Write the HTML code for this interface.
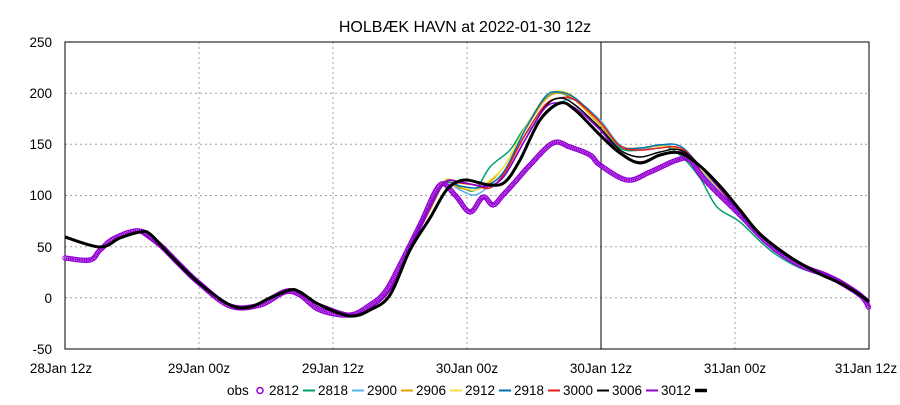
<!DOCTYPE html>
<html><head><meta charset="utf-8"><style>
body{margin:0;background:#fff}
svg text{font-family:"Liberation Sans",sans-serif;font-size:13.5px;fill:#000}
</style></head><body>
<svg id="s" width="900" height="400" viewBox="0 0 900 400" xmlns="http://www.w3.org/2000/svg">
<rect width="900" height="400" fill="#fff"/>
<g stroke="#a0a0a0" stroke-dasharray="2,3" stroke-width="1">
<line x1="65" y1="93.2" x2="869" y2="93.2"/><line x1="65" y1="144.3" x2="869" y2="144.3"/>
<line x1="65" y1="195.5" x2="869" y2="195.5"/><line x1="65" y1="246.7" x2="869" y2="246.7"/>
<line x1="65" y1="297.8" x2="869" y2="297.8"/>
<line x1="199" y1="42" x2="199" y2="349"/><line x1="333" y1="42" x2="333" y2="349"/>
<line x1="467" y1="42" x2="467" y2="349"/><line x1="735" y1="42" x2="735" y2="349"/>
</g>
<rect x="65" y="42" width="804" height="307" fill="none" stroke="#000"/>
<line x1="601" y1="42" x2="601" y2="349" stroke="#000"/>
<g text-anchor="end">
<text x="52" y="47">250</text><text x="52" y="98">200</text><text x="52" y="149">150</text>
<text x="52" y="200">100</text><text x="52" y="252">50</text><text x="52" y="303">0</text><text x="52" y="354">-50</text>
</g>
<g text-anchor="middle">
<text x="61" y="373">28Jan 12z</text><text x="199" y="373">29Jan 00z</text><text x="333" y="373">29Jan 12z</text>
<text x="467" y="373">30Jan 00z</text><text x="601" y="373">30Jan 12z</text><text x="735" y="373">31Jan 00z</text><text x="866" y="373">31Jan 12z</text>
<text x="465" y="32" style="font-size:16px">HOLBÆK HAVN at 2022-01-30 12z</text>
</g>
<g id="lines" fill="none" stroke-width="1.5" stroke-linejoin="round">
<polyline stroke="#009e73" points="140,232 170,255 199,283 230,305 250,307 270,297 290,289 310,300 350,314 370,308 390,290 410,245 430,205 445,183 460,187 475,190 490,167 510,150 523,130 550,95 575,100 600,125 620,148 640,150 660,145 680,155 700,178 717,207 740,222 770,250 800,268 840,281 869,300"/>
<polyline stroke="#56b4e9" points="140,232 170,255 199,283 230,305 250,307 270,297 290,289 310,300 350,314 370,308 390,290 410,248 430,210 445,183 460,190 475,195 490,185 505,170 525,135 545,115 560,103 575,100 600,120 620,145 640,150 660,145 680,150 700,170 740,215 770,245 800,265 840,281 869,300"/>
<polyline stroke="#e69f00" points="140,232 170,255 199,283 230,305 250,307 270,297 290,289 310,300 350,314 370,308 390,290 410,248 430,210 445,183 460,188 475,190 490,182 505,165 525,130 545,100 560,93 575,100 600,125 620,146 640,148 660,146 680,150 700,168 740,212 770,243 800,263 840,280 869,300"/>
<polyline stroke="#f0e442" points="140,232 170,255 199,283 230,305 250,307 270,297 290,289 310,300 350,314 370,308 390,290 410,248 430,208 445,180 460,186 475,190 490,180 505,165 525,128 545,97 560,91 575,98 600,123 620,146 640,148 660,146 680,150 700,168 740,212 770,243 800,263 840,280 869,300"/>
<polyline stroke="#0072b2" points="140,232 170,255 199,283 230,305 250,307 270,297 290,289 310,300 350,314 370,308 390,290 410,248 430,208 445,183 460,186 475,188 490,184 505,170 525,130 545,97 558,92 575,98 600,122 620,146 640,148 660,145 680,146 700,166 740,212 770,243 800,263 840,280 869,300"/>
<polyline stroke="#e41a1c" points="140,232 170,255 199,283 230,305 250,307 270,297 290,289 310,300 350,314 370,308 390,290 410,248 430,208 445,182 460,183 475,185 490,188 505,172 525,135 545,105 560,98 575,100 600,122 620,146 640,150 660,148 680,148 700,166 740,212 770,243 800,263 840,280 869,300"/>
<polyline stroke="#000" points="140,232 170,255 199,283 230,305 250,307 270,297 290,289 310,300 350,314 370,308 390,290 410,248 430,208 445,182 460,182 475,185 490,186 505,175 525,140 545,107 560,98 575,105 600,128 620,150 640,157 660,152 680,150 700,166 740,212 770,243 800,263 840,280 869,300"/>
<polyline stroke="#9400d3" points="140,232 170,255 199,283 230,305 250,307 270,297 290,289 310,300 350,314 370,308 390,290 410,248 430,208 445,182 460,182 475,185 490,186 505,175 525,140 545,108 560,103 575,108 600,130 620,153 640,162 660,155 680,152 700,166 740,212 770,243 800,263 840,280 869,300"/>
</g>
<polyline id="obs" fill="none" stroke="none" points="65,258 90,260 100,250 115,238 140,231 160,245 180,265 199,283 230,306 260,305 285,292 300,295 320,310 350,315 370,305 385,292 400,265 420,225 440,185 455,195 470,212 483,197 493,205 503,195 515,182 530,165 553,143 570,147 590,155 600,165 627,180 650,172 677,160 690,160 705,180 740,215 770,245 800,265 830,277 860,295 869,308"/>
<g id="obsm" fill="none" stroke="#9400d3" stroke-width="1"></g>
<polyline id="main" fill="none" stroke="#000" stroke-width="3" stroke-linejoin="round" points="65,237 100,247 120,238 140,232 150,234 170,255 199,283 230,305 250,307 270,298 290,290 300,292 320,305 350,316 370,310 390,295 410,250 430,218 445,192 455,183 467,180 490,185 505,182 520,160 540,120 560,103 575,110 600,135 620,153 640,163 660,155 680,153 700,166 720,186 740,210 760,234 790,257 820,274 840,283 860,295 869,302"/>
<g>
<text x="227" y="395">obs</text>
<circle cx="260" cy="390.5" r="3" fill="none" stroke="#9400d3" stroke-width="1.5"/>
<text x="269" y="395">2812</text><text x="318" y="395">2818</text><text x="367" y="395">2900</text>
<text x="416" y="395">2906</text><text x="465" y="395">2912</text><text x="514" y="395">2918</text>
<text x="563" y="395">3000</text><text x="612" y="395">3006</text><text x="661" y="395">3012</text>
</g>
<g stroke-width="2">
<line x1="303" y1="390.5" x2="315" y2="390.5" stroke="#009e73"/>
<line x1="352" y1="390.5" x2="364" y2="390.5" stroke="#56b4e9"/>
<line x1="401" y1="390.5" x2="413" y2="390.5" stroke="#e69f00"/>
<line x1="450" y1="390.5" x2="462" y2="390.5" stroke="#f0e442"/>
<line x1="499" y1="390.5" x2="511" y2="390.5" stroke="#0072b2"/>
<line x1="548" y1="390.5" x2="560" y2="390.5" stroke="#e41a1c"/>
<line x1="597" y1="390.5" x2="609" y2="390.5" stroke="#000"/>
<line x1="646" y1="390.5" x2="658" y2="390.5" stroke="#9400d3"/>
<line x1="695" y1="390.5" x2="707" y2="390.5" stroke="#000" stroke-width="3.5"/>
</g>
</svg>
<script>
(function(){
var NS="http://www.w3.org/2000/svg";
function smooth(pl){
  var p=pl.getAttribute("points").trim().split(/\s+/).map(function(s){return s.split(",").map(Number);});
  var d="M"+p[0][0]+","+p[0][1];
  for(var i=0;i<p.length-1;i++){
    var p0=p[i-1]||p[i],p1=p[i],p2=p[i+1],p3=p[i+2]||p2;
    var c1x=p1[0]+(p2[0]-p0[0])/6,c1y=p1[1]+(p2[1]-p0[1])/6;
    var c2x=p2[0]-(p3[0]-p1[0])/6,c2y=p2[1]-(p3[1]-p1[1])/6;
    d+=" C"+c1x.toFixed(1)+","+c1y.toFixed(1)+" "+c2x.toFixed(1)+","+c2y.toFixed(1)+" "+p2[0]+","+p2[1];
  }
  var path=document.createElementNS(NS,"path");
  ["stroke","stroke-width","fill","stroke-linejoin"].forEach(function(a){var v=pl.getAttribute(a);if(v)path.setAttribute(a,v);});
  path.setAttribute("d",d);
  pl.parentNode.replaceChild(path,pl);
  return path;
}
var ls=document.querySelectorAll("#lines polyline");
for(var i=0;i<ls.length;i++)smooth(ls[i]);
var o=smooth(document.getElementById("obs"));
var g=document.getElementById("obsm");
var L=o.getTotalLength();
for(var t=0;t<=L;t+=1.8){
  var pt=o.getPointAtLength(t);
  var c=document.createElementNS(NS,"circle");
  c.setAttribute("cx",pt.x.toFixed(1));c.setAttribute("cy",pt.y.toFixed(1));c.setAttribute("r","2.2");
  g.appendChild(c);
}
smooth(document.getElementById("main"));
})();
</script>
</body></html>
